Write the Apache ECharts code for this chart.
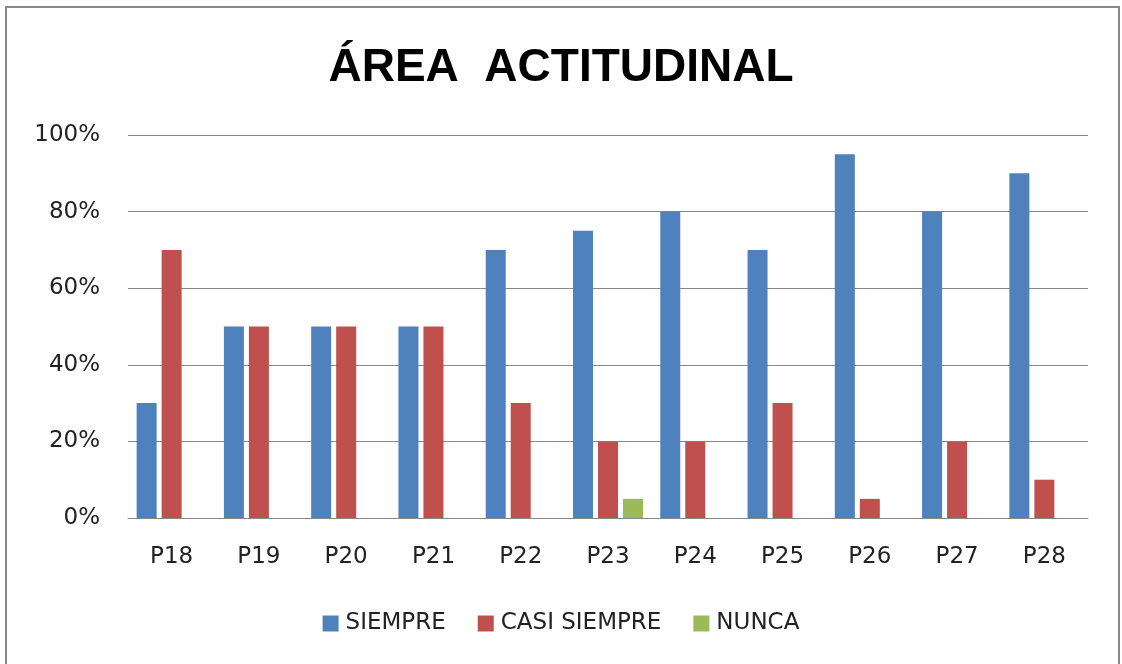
<!DOCTYPE html>
<html>
<head>
<meta charset="utf-8">
<script src="https://cdn.jsdelivr.net/npm/echarts@6/dist/echarts.min.js"></script>
<style>
html,body{margin:0;padding:0;background:#fff;}
#chart{width:1122px;height:664px;}
</style>
</head>
<body>
<div id="chart"></div>
<script>
const categories = ['P18','P19','P20','P21','P22','P23','P24','P25','P26','P27','P28'];
const siempre = [30,50,50,50,70,75,80,70,95,80,90];
const casiSiempre = [70,50,50,50,30,20,20,30,5,20,10];
const nunca = [0,0,0,0,0,5,0,0,0,0,0];
const seriesNames = ['SIEMPRE','CASI SIEMPRE','NUNCA'];
const titleText = 'ÁREA  ACTITUDINAL';

const chart = echarts.init(document.getElementById('chart'));
const font = '"Liberation Sans", Arial, sans-serif';
const labelFont = '"DejaVu Sans", sans-serif';
chart.setOption({
  animation: false,
  backgroundColor: '#fff',
  graphic: [{
    type: 'rect', left: 5, top: 6, z: -1,
    shape: { width: 1113, height: 700 },
    style: { fill: '#fff', stroke: '#888', lineWidth: 2 }
  }],
  title: {
    text: titleText, left: 'center', top: 40,
    textStyle: { fontFamily: font, fontSize: 46, fontWeight: 'bold', color: '#000' }
  },
  legend: {
    data: seriesNames, bottom: 24, left: 'center',
    icon: 'rect', itemWidth: 16, itemHeight: 16, itemGap: 32,
    textStyle: { fontFamily: labelFont, fontSize: 23, color: '#222', padding: [0,0,0,2] }
  },
  grid: { left: 128, right: 34, top: 135, bottom: 146, containLabel: false },
  xAxis: {
    type: 'category', data: categories,
    axisLine: { lineStyle: { color: '#888', width: 1 } },
    axisTick: { show: false },
    axisLabel: { fontFamily: labelFont, fontSize: 23, color: '#222', margin: 28 }
  },
  yAxis: {
    type: 'value', min: 0, max: 100, interval: 20,
    axisLine: { show: false },
    axisTick: { show: false },
    axisLabel: { formatter: '{value}%', fontFamily: labelFont, fontSize: 23, color: '#222', margin: 28 },
    splitLine: { lineStyle: { color: '#888', width: 1 } }
  },
  series: [
    { name: seriesNames[0], type: 'bar', data: siempre, barWidth: 20, barGap: '25%', itemStyle: { color: '#4F81BD' } },
    { name: seriesNames[1], type: 'bar', data: casiSiempre, barWidth: 20, barGap: '25%', itemStyle: { color: '#C0504D' } },
    { name: seriesNames[2], type: 'bar', data: nunca, barWidth: 20, barGap: '25%', itemStyle: { color: '#9BBB59' } }
  ]
});
</script>
</body>
</html>
